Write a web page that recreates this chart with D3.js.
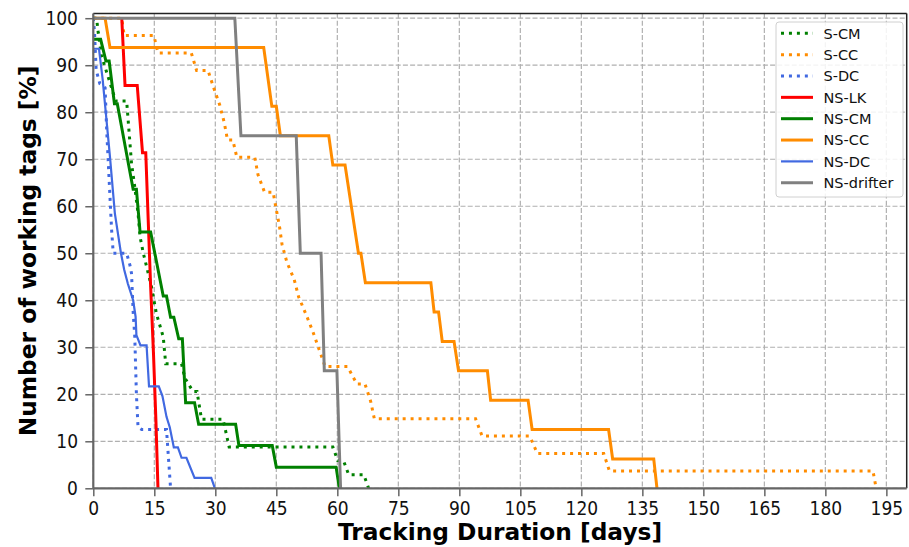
<!DOCTYPE html>
<html>
<head>
<meta charset="utf-8">
<style>
body { margin: 0; background: #fff; }
svg { font-family: "DejaVu Sans", sans-serif; }
</style>
</head>
<body>
<svg width="909" height="547"></svg>
<script src="https://cdn.jsdelivr.net/npm/d3@7"></script>
<script>
// survival curves: [day, % of working tags]
var sCM = [[0,100],[0.8,100],[1.2,97],[2.0,92],[3.4,88.2],[5.5,82.4],[8.2,82.4],[9.4,69.1],[10.2,64.1],[11.0,58.5],[11.5,53.5],[12.3,50],[14.3,42.9],[15.5,37.2],[17.2,32.2],[17.8,26.5],[21.7,26.5],[22.5,23.5],[24.5,20.6],[25.5,20.6],[26.6,14.7],[31.9,14.7],[33.4,8.8],[58.9,8.8],[60.1,5.9],[61.5,5.9],[62.8,2.9],[66.5,2.9],[67.7,0]];
var sCC = [[0,100],[7.0,100],[7.6,96.3],[14.9,96.3],[15.9,92.6],[24.1,92.6],[25.4,88.9],[28.2,88.9],[29.6,85.2],[31.1,81.5],[32.2,77.8],[33.0,74.1],[34.3,74.1],[35.3,70.4],[39.7,70.4],[40.5,66.7],[42.1,63.0],[44.2,63.0],[45.0,59.3],[45.8,55.6],[46.4,51.9],[47.6,48.1],[49.4,44.4],[50.5,40.7],[52.3,37.0],[54.0,33.3],[55.5,29.6],[57.0,25.9],[62.5,25.9],[64.8,22.2],[66.8,22.2],[68.2,18.5],[69.1,14.8],[94.0,14.8],[95.6,11.1],[107.3,11.1],[109.2,7.4],[125.5,7.4],[126.9,3.7],[191.7,3.7],[192.5,0]];
var sDC = [[0,100],[0.3,97],[0.7,89],[1.6,86.1],[2.9,85.2],[3.3,76],[3.7,69],[4.1,62],[4.5,55],[4.9,50],[8.2,50],[9.0,47.5],[9.4,45.7],[9.8,37.5],[10.2,32.2],[10.6,20],[11.0,13],[11.9,12.5],[18.0,12.5],[19.0,0]];
var nsLK = [[7.0,100],[7.8,85.7],[10.8,85.7],[12.1,71.4],[12.9,71.4],[13.5,57.1],[14.1,42.9],[14.8,28.6],[15.4,14.3],[15.9,0]];
var nsCM = [[0,95.5],[1.8,95.5],[3.1,90.9],[3.9,90.9],[5.2,81.8],[5.9,81.8],[9.8,63.6],[10.6,63.6],[11.5,54.5],[14.1,54.5],[17.2,40.9],[18.0,40.9],[19.0,36.4],[19.8,36.4],[21.0,31.8],[21.9,31.8],[22.7,18.2],[24.9,18.2],[25.9,13.6],[35.0,13.6],[35.8,9.1],[44.0,9.1],[45.0,4.5],[59.7,4.5],[60.5,0]];
var nsCC = [[0,100],[2.9,100],[4.1,93.75],[41.9,93.75],[43.9,81.25],[45.0,81.25],[46.0,75],[57.9,75],[58.9,68.75],[61.9,68.75],[65.2,50],[65.8,50],[66.9,43.75],[83.0,43.75],[83.8,37.5],[84.9,37.5],[85.8,31.25],[88.7,31.25],[89.8,25],[96.9,25],[97.7,18.75],[106.9,18.75],[107.9,12.5],[126.7,12.5],[127.7,6.25],[137.8,6.25],[138.6,0]];
var nsDC = [[0,93.5],[1.4,93.5],[2.3,87],[4.1,70.5],[5.3,58.5],[6.8,50],[7.6,46.5],[8.5,43.5],[9.8,40],[10.4,36.5],[10.6,32.6],[11.6,30.4],[13.1,30.4],[13.7,21.7],[16.1,21.7],[17.0,19.6],[18.0,15.2],[18.8,13],[19.8,8.7],[20.8,8.7],[21.7,6.5],[22.9,6.5],[24.9,2.2],[29.0,2.2],[29.9,0]];
var nsDrifter = [[0,100],[34.8,100],[36.3,75],[49.9,75],[50.9,50],[56.0,50],[56.8,25],[59.9,25],[60.8,0]];

var names = ["S-CM", "S-CC", "S-DC", "NS-LK", "NS-CM", "NS-CC", "NS-DC", "NS-drifter"];
var curves = [sCM, sCC, sDC, nsLK, nsCM, nsCC, nsDC, nsDrifter];
var xTicks = d3.range(0, 196, 15);
var yTicks = d3.range(0, 101, 10);

var styles = [
  {color: "#008000", width: 3, dash: "3,4.95"},
  {color: "#ff8c00", width: 3, dash: "3,4.95"},
  {color: "#4169e1", width: 3, dash: "3,4.95"},
  {color: "#ff0000", width: 3, dash: null},
  {color: "#008000", width: 3, dash: null},
  {color: "#ff8c00", width: 3, dash: null},
  {color: "#4169e1", width: 2.2, dash: null},
  {color: "#808080", width: 3, dash: null}
];

var svg = d3.select("svg");
var pLeft = 93.3, pRight = 906.7, pTop = 13.5, pBottom = 488.3;

var x = d3.scaleLinear().domain([0, 200]).range([pLeft, pRight]);
var y = d3.scaleLinear().domain([0, 101]).range([pBottom, pTop]);

svg.append("clipPath").attr("id", "plot")
  .append("rect").attr("x", pLeft).attr("y", pTop).attr("width", pRight - pLeft).attr("height", pBottom - pTop);

// grid
var grid = svg.append("g").attr("stroke", "#b0b0b0").attr("stroke-width", 1.2).attr("stroke-dasharray", "5,2.2");
grid.selectAll("line.v").data(xTicks).enter().append("line")
  .attr("x1", function(d) { return x(d); }).attr("x2", function(d) { return x(d); })
  .attr("y1", pTop).attr("y2", pBottom);
grid.selectAll("line.h").data(yTicks).enter().append("line")
  .attr("y1", function(d) { return y(d); }).attr("y2", function(d) { return y(d); })
  .attr("x1", pLeft).attr("x2", pRight);

var line = d3.line().x(function(d) { return x(d[0]); }).y(function(d) { return y(d[1]); });

svg.append("g").attr("clip-path", "url(#plot)")
  .selectAll("path").data(curves).enter().append("path")
  .attr("d", line)
  .attr("fill", "none")
  .attr("stroke", function(d, i) { return styles[i].color; })
  .attr("stroke-width", function(d, i) { return styles[i].width; })
  .attr("stroke-dasharray", function(d, i) { return styles[i].dash; })
  .attr("stroke-linejoin", "miter");

// spines
svg.append("line").attr("x1", pLeft).attr("x2", pRight).attr("y1", pTop).attr("y2", pTop).attr("stroke", "#222").attr("stroke-width", 1.5);
svg.append("line").attr("x1", pRight).attr("x2", pRight).attr("y1", pTop).attr("y2", pBottom).attr("stroke", "#222").attr("stroke-width", 1.5);

var xAxis = svg.append("g").attr("transform", "translate(0," + pBottom + ")")
  .call(d3.axisBottom(x).tickValues(xTicks).tickSize(8).tickPadding(6).tickSizeOuter(0));
var yAxis = svg.append("g").attr("transform", "translate(" + pLeft + ",0)")
  .call(d3.axisLeft(y).tickValues(yTicks).tickSize(8).tickPadding(6).tickSizeOuter(0));

[xAxis, yAxis].forEach(function(a) {
  a.attr("font-size", null).attr("font-family", null);
  a.select(".domain").attr("stroke", "#666").attr("stroke-width", 2.2);
  a.selectAll(".tick line").attr("stroke", "#666").attr("stroke-width", 1.5);
  a.selectAll(".tick text").attr("fill", "#111")
    .style("font-size", "19px").style("font-family", "DejaVu Sans")
    .attr("transform", "scale(0.9,1)");
});
xAxis.selectAll(".tick text").attr("y", 13.5);
yAxis.selectAll(".tick text").attr("x", -17);
xAxis.select(".domain").attr("d", "M" + pLeft + ",0H" + pRight);
yAxis.select(".domain").attr("d", "M0," + pBottom + "V" + pTop);

svg.append("text")
  .attr("x", (pLeft + pRight) / 2).attr("y", 540)
  .attr("text-anchor", "middle")
  .style("font-size", "23.3px").style("font-weight", "bold")
  .text("Tracking Duration [days]");

svg.append("text")
  .attr("transform", "translate(36," + ((pTop + pBottom) / 2) + ") rotate(-90)")
  .attr("text-anchor", "middle")
  .style("font-size", "23.3px").style("font-weight", "bold")
  .text("Number of working tags [%]");

// legend
var lg = svg.append("g");
lg.append("rect").attr("x", 776).attr("y", 22).attr("width", 127).attr("height", 175)
  .attr("rx", 3).attr("fill", "#fff").attr("fill-opacity", 0.85).attr("stroke", "#d0d0d0");
var item = lg.selectAll("g.item").data(names).enter().append("g")
  .attr("transform", function(d, i) { return "translate(0," + (33.3 + i * 21.35) + ")"; });
item.append("line").attr("x1", 781).attr("x2", 813).attr("y1", 0).attr("y2", 0)
  .attr("stroke", function(d, i) { return styles[i].color; })
  .attr("stroke-width", function(d, i) { return styles[i].width; })
  .attr("stroke-dasharray", function(d, i) { return styles[i].dash; });
item.append("text").attr("x", 823.5).attr("y", 5.2)
  .style("font-size", "14.5px").attr("fill", "#111")
  .text(function(d) { return d; });
</script>
</body>
</html>
